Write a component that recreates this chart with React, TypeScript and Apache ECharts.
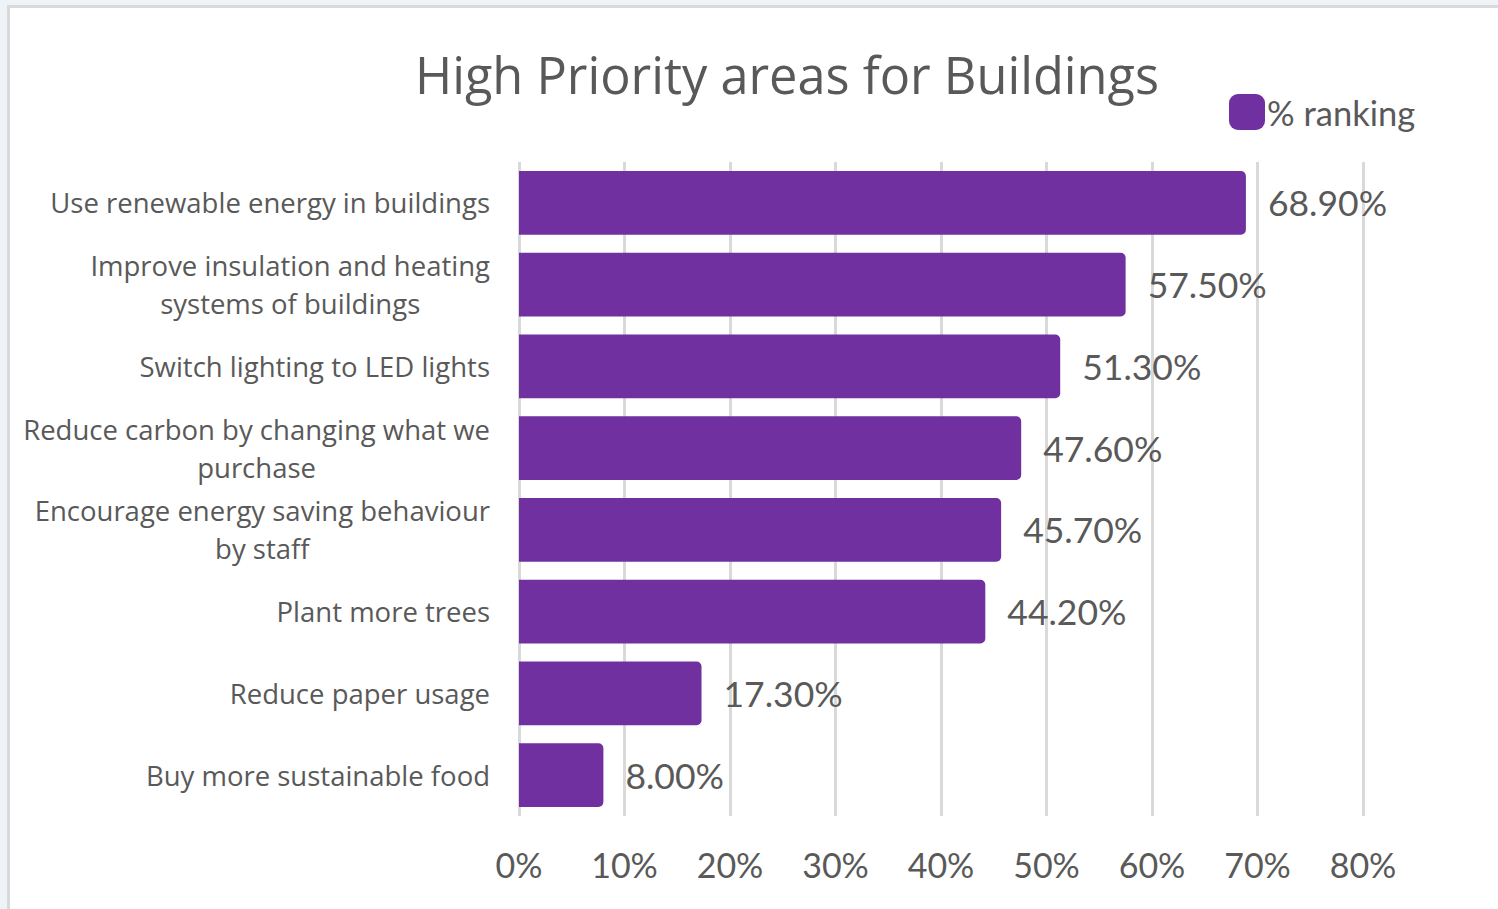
import React, { useEffect, useRef } from "react";
import * as echarts from "echarts";

const categories = [
  "Use renewable energy in buildings",
  "Improve insulation and heating\nsystems of buildings",
  "Switch lighting to LED lights",
  "Reduce carbon by changing what we\npurchase",
  "Encourage energy saving behaviour\nby staff",
  "Plant more trees",
  "Reduce paper usage",
  "Buy more sustainable food",
];
const values = [68.9, 57.5, 51.3, 47.6, 45.7, 44.2, 17.3, 8.0];
const seriesName = "% ranking";
const titleText = "High Priority areas for Buildings";

const FONT = "Lato, 'Open Sans', sans-serif";
const WIDE = "'Open Sans', Lato, sans-serif";
const GREY = "#595959";
const PURPLE = "#7030A0";

export default function App() {
  const ref = useRef<HTMLDivElement>(null);
  useEffect(() => {
    if (!ref.current) return;
    const chart = echarts.init(ref.current, null, { renderer: "svg" });
    chart.setOption({
      animation: false,
      backgroundColor: "#eef3f8",
      textStyle: { fontFamily: FONT },
      graphic: [
        {
          type: "rect",
          z: -10,
          shape: { x: 8.5, y: 6.5, width: 1500, height: 910 },
          style: { fill: "#ffffff", stroke: "#d9d9d9", lineWidth: 3 },
        },
      ],
      title: {
        text: titleText,
        left: 782,
        textAlign: "center",
        top: 44,
        textStyle: { fontFamily: WIDE, fontSize: 50.5, fontWeight: "normal", color: GREY },
      },
      legend: {
        left: 1229,
        top: 94,
        padding: 0,
        itemWidth: 36,
        itemHeight: 36,
        icon: "roundRect",
        textStyle: { fontFamily: FONT, fontSize: 34.5, color: GREY, padding: [0, 0, 0, -3] },
        data: [seriesName],
      },
      grid: { left: 519, right: 135, top: 162, bottom: 93, containLabel: false },
      xAxis: {
        type: "value",
        min: 0,
        max: 80,
        interval: 10,
        axisLine: { show: false },
        axisTick: { show: false },
        splitLine: { show: true, lineStyle: { color: "#d9d9d9", width: 3 } },
        axisLabel: {
          formatter: (v: number) => `${v}%`,
          margin: 31,
          fontFamily: FONT,
          fontSize: 34,
          color: GREY,
        },
      },
      yAxis: {
        type: "category",
        inverse: true,
        data: categories,
        axisLine: { show: false },
        axisTick: { show: false },
        axisLabel: {
          margin: 29,
          fontFamily: WIDE,
          fontSize: 27.5,
          color: GREY,
          lineHeight: 38,
          formatter: (v: string) =>
            v
              .split("\n")
              .map((l) => `{c|${l}}`)
              .join("\n"),
          rich: {
            c: { align: "center", fontFamily: WIDE, fontSize: 27.5, color: GREY, lineHeight: 38 },
          },
        },
      },
      series: [
        {
          name: seriesName,
          type: "bar",
          data: values,
          barCategoryGap: "22%",
          itemStyle: { color: PURPLE, borderRadius: [0, 5, 5, 0] },
          label: {
            show: true,
            position: "right",
            distance: 22,
            formatter: (p: any) => `${Number(p.value).toFixed(2)}%`,
            fontFamily: FONT,
            fontSize: 35.5,
            color: GREY,
          },
        },
      ],
    });
    return () => chart.dispose();
  }, []);
  return (
    <div
      ref={ref}
      style={{ position: "fixed", left: 0, top: 0, width: 1498, height: 909 }}
    />
  );
}
